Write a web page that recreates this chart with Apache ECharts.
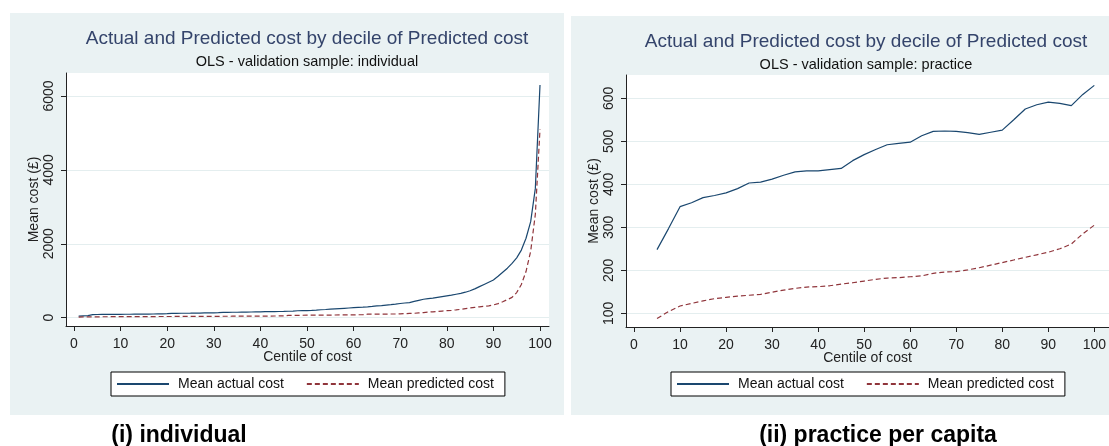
<!DOCTYPE html>
<html>
<head>
<meta charset="utf-8">
<script src="https://cdn.jsdelivr.net/npm/echarts@6/dist/echarts.min.js"></script>
<style>
html,body{margin:0;padding:0;background:#ffffff;}
#chart{width:1109px;height:446px;}
</style>
</head>
<body>
<div id="chart"></div>
<script>
// ---------- data ----------
const seriesNames = ['Mean actual cost', 'Mean predicted cost'];
const xTicks = [0, 10, 20, 30, 40, 50, 60, 70, 80, 90, 100];
const yTicksIndividual = [0, 2000, 4000, 6000];
const yTicksPractice = [100, 200, 300, 400, 500, 600];

// (i) individual: centiles 1..100
const centilesIndividual = [
  1,2,3,4,5,6,7,8,9,10,11,12,13,14,15,16,17,18,19,20,
  21,22,23,24,25,26,27,28,29,30,31,32,33,34,35,36,37,38,39,40,
  41,42,43,44,45,46,47,48,49,50,51,52,53,54,55,56,57,58,59,60,
  61,62,63,64,65,66,67,68,69,70,71,72,73,74,75,76,77,78,79,80,
  81,82,83,84,85,86,87,88,89,90,91,92,93,94,95,96,97,98,99,100
];
const actualIndividual = [
  40,48,55,82,86,88,89,90,91,92,93,94,95,96,97,99,100,102,104,108,
  118,119,120,121,122,124,126,128,130,132,135,145,146,147,148,150,152,154,158,160,
  162,164,166,168,171,175,180,188,190,192,198,205,215,222,230,238,246,254,262,270,
  278,286,295,305,318,328,340,352,365,385,398,410,440,470,500,515,530,550,570,590,
  610,635,660,690,730,780,840,900,960,1020,1120,1230,1340,1470,1620,1830,2150,2600,3500,6300
];
const predictedIndividual = [
  18,20,22,23,24,25,26,27,27,28,28,29,29,30,30,31,31,32,32,33,
  33,34,34,35,35,36,36,37,37,38,38,39,39,40,40,41,41,42,42,43,
  44,45,46,48,50,62,64,65,66,67,68,69,70,71,72,73,74,75,76,78,
  80,82,95,96,97,98,99,100,102,105,110,115,120,130,140,150,160,170,180,190,
  200,212,225,245,265,280,295,310,322,345,380,430,490,550,680,900,1250,1800,2800,5100
];

// (ii) practice per capita
const centilesPractice = [
  5,7.5,10,12.5,15,17.5,20,22.5,25,27.5,30,32.5,35,37.5,40,42.5,45,47.5,50,52.5,
  55,57.5,60,62.5,65,67.5,70,72.5,75,77.5,80,82.5,85,87.5,90,92.5,95,97.5,100
];
const actualPractice = [
  248,297,348,357,369,374,380,390,403,405,412,421,429,431,431,434,437,455,469,481,
  492,495,498,513,523,524,523,520,516,521,526,550,575,585,591,588,583,609,630
];
const predictedPractice = [
  88,104,117,123,129,134,137,140,142,144,149,154,158,161,162,164,168,171,175,179,
  182,183,185,187,193,196,197,201,206,212,218,224,230,236,242,250,261,285,305
];

// ---------- styling ----------
const FONT = "'Liberation Sans', Arial, Helvetica, sans-serif";
const BG = '#eaf2f3';
const GRID_LINE = '#e4eeef';
const AXIS = '#222222';
const NAVY = '#1a476f';
const MAROON = '#90353b';

function pairs(xs, ys) { return xs.map((x, i) => [x, ys[i]]); }
function plain(v) { return String(v); }

const xMin = xTicks[0], xMax = xTicks[xTicks.length - 1], xInt = xTicks[1] - xTicks[0];

function frameAxes(gridIndex, xName, yName) {
  return {
    x: {
      gridIndex, type: 'value', min: 0, max: 1,
      axisLine: {show: true, onZero: false, lineStyle: {color: AXIS, width: 1}},
      axisTick: {show: false}, axisLabel: {show: false}, splitLine: {show: false},
      name: xName, nameLocation: 'middle', nameGap: 24,
      nameTextStyle: {fontFamily: FONT, fontSize: 14, color: AXIS}
    },
    y: {
      gridIndex, type: 'value', min: 0, max: 1,
      axisLine: {show: true, onZero: false, lineStyle: {color: AXIS, width: 1}},
      axisTick: {show: false}, axisLabel: {show: false}, splitLine: {show: false},
      name: yName, nameLocation: 'middle', nameGap: 25, nameRotate: 90,
      nameTextStyle: {fontFamily: FONT, fontSize: 14, color: AXIS}
    }
  };
}

function dataXAxis(gridIndex, offset) {
  return {
    gridIndex, type: 'value', min: xMin, max: xMax, interval: xInt, offset,
    axisLine: {show: false, onZero: false},
    axisTick: {show: true, length: 5, lineStyle: {color: AXIS, width: 1}},
    axisLabel: {show: true, margin: 11, fontFamily: FONT, fontSize: 14, color: AXIS, formatter: plain},
    splitLine: {show: false}
  };
}
function hiddenAxis(gridIndex, min, max) {
  return {gridIndex, type: 'value', min, max, show: false, splitLine: {show: false}};
}
function tickYAxis(gridIndex, ticks) {
  return {
    gridIndex, type: 'value', min: ticks[0], max: ticks[ticks.length - 1],
    interval: ticks[1] - ticks[0],
    axisLine: {show: false, onZero: false},
    axisTick: {show: true, length: 5, lineStyle: {color: AXIS, width: 1}},
    axisLabel: {show: true, rotate: 90, margin: 10, fontFamily: FONT, fontSize: 14, color: AXIS, formatter: plain},
    splitLine: {show: true, lineStyle: {color: GRID_LINE, width: 1}}
  };
}

const fL = frameAxes(0, 'Centile of cost', 'Mean cost (£)');
const fR = frameAxes(3, 'Centile of cost', 'Mean cost (£)');

function lineSeries(name, xi, yi, data, color, dashed) {
  return {
    name, type: 'line', xAxisIndex: xi, yAxisIndex: yi, data,
    symbol: 'emptyCircle', symbolSize: 0, showSymbol: false, clip: false, silent: true,
    lineStyle: {color, width: 1.2, type: dashed ? [5, 3] : 'solid'},
    itemStyle: {color},
    z: 3
  };
}

function title(text, x, y, size, color, bold) {
  return {
    type: 'text', x, y, z: 10,
    style: {
      text, fill: color, textAlign: 'center', textVerticalAlign: 'middle',
      font: (bold ? 'bold ' : '') + size + 'px ' + FONT
    }
  };
}

function legend(left) {
  return {
    left, top: 372, orient: 'horizontal', data: seriesNames,
    selectedMode: false,
    backgroundColor: '#ffffff', borderColor: '#000000', borderWidth: 1,
    padding: [5, 11, 5, 5], itemGap: 22, itemWidth: 52, itemHeight: 14,
    itemStyle: {opacity: 0, borderWidth: 0},
    textStyle: {fontFamily: FONT, fontSize: 14, color: '#111111', padding: [0, 0, 0, 4]}
  };
}

const option = {
  animation: false,
  backgroundColor: '#ffffff',
  graphic: [
    {type: 'rect', z: -100, shape: {x: 10, y: 13, width: 554, height: 402}, style: {fill: BG}},
    {type: 'rect', z: -100, shape: {x: 571, y: 16, width: 538, height: 399}, style: {fill: BG}},
    title('Actual and Predicted cost by decile of Predicted cost', 307, 38.5, 19, '#34446b', false),
    title('OLS - validation sample: individual', 307, 61.5, 14.5, '#111111', false),
    title('Actual and Predicted cost by decile of Predicted cost', 866, 41.5, 19, '#34446b', false),
    title('OLS - validation sample: practice', 866, 65, 14.5, '#111111', false),
    title('(i) individual', 179, 436, 23, '#000000', true),
    title('(ii) practice per capita', 878, 436, 23, '#000000', true)
  ],
  grid: [
    // left panel
    {left: 66, top: 73, width: 483, height: 253, show: true, backgroundColor: '#ffffff', borderWidth: 0, z: -50},
    {left: 74, top: 96, width: 466, height: 221.7},
    {left: 66, top: 96, width: 483, height: 221.7},
    // right panel
    {left: 626, top: 75, width: 483, height: 252, show: true, backgroundColor: '#ffffff', borderWidth: 0, z: -50},
    {left: 634, top: 98.3, width: 464, height: 215},
    {left: 626, top: 98.3, width: 483, height: 215}
  ],
  xAxis: [
    fL.x,
    dataXAxis(1, 8.3),
    hiddenAxis(2, 0, 1),
    fR.x,
    dataXAxis(4, 13.7),
    hiddenAxis(5, 0, 1)
  ],
  yAxis: [
    fL.y,
    hiddenAxis(1, yTicksIndividual[0], yTicksIndividual[yTicksIndividual.length - 1]),
    tickYAxis(2, yTicksIndividual),
    fR.y,
    hiddenAxis(4, yTicksPractice[0], yTicksPractice[yTicksPractice.length - 1]),
    tickYAxis(5, yTicksPractice)
  ],
  legend: [legend(111), legend(671)],
  series: [
    lineSeries(seriesNames[0], 1, 1, pairs(centilesIndividual, actualIndividual), NAVY, false),
    lineSeries(seriesNames[1], 1, 1, pairs(centilesIndividual, predictedIndividual), MAROON, true),
    lineSeries(seriesNames[0], 4, 4, pairs(centilesPractice, actualPractice), NAVY, false),
    lineSeries(seriesNames[1], 4, 4, pairs(centilesPractice, predictedPractice), MAROON, true)
  ]
};

const chart = echarts.init(document.getElementById('chart'), null, {renderer: 'canvas'});
chart.setOption(option);
</script>
</body>
</html>
